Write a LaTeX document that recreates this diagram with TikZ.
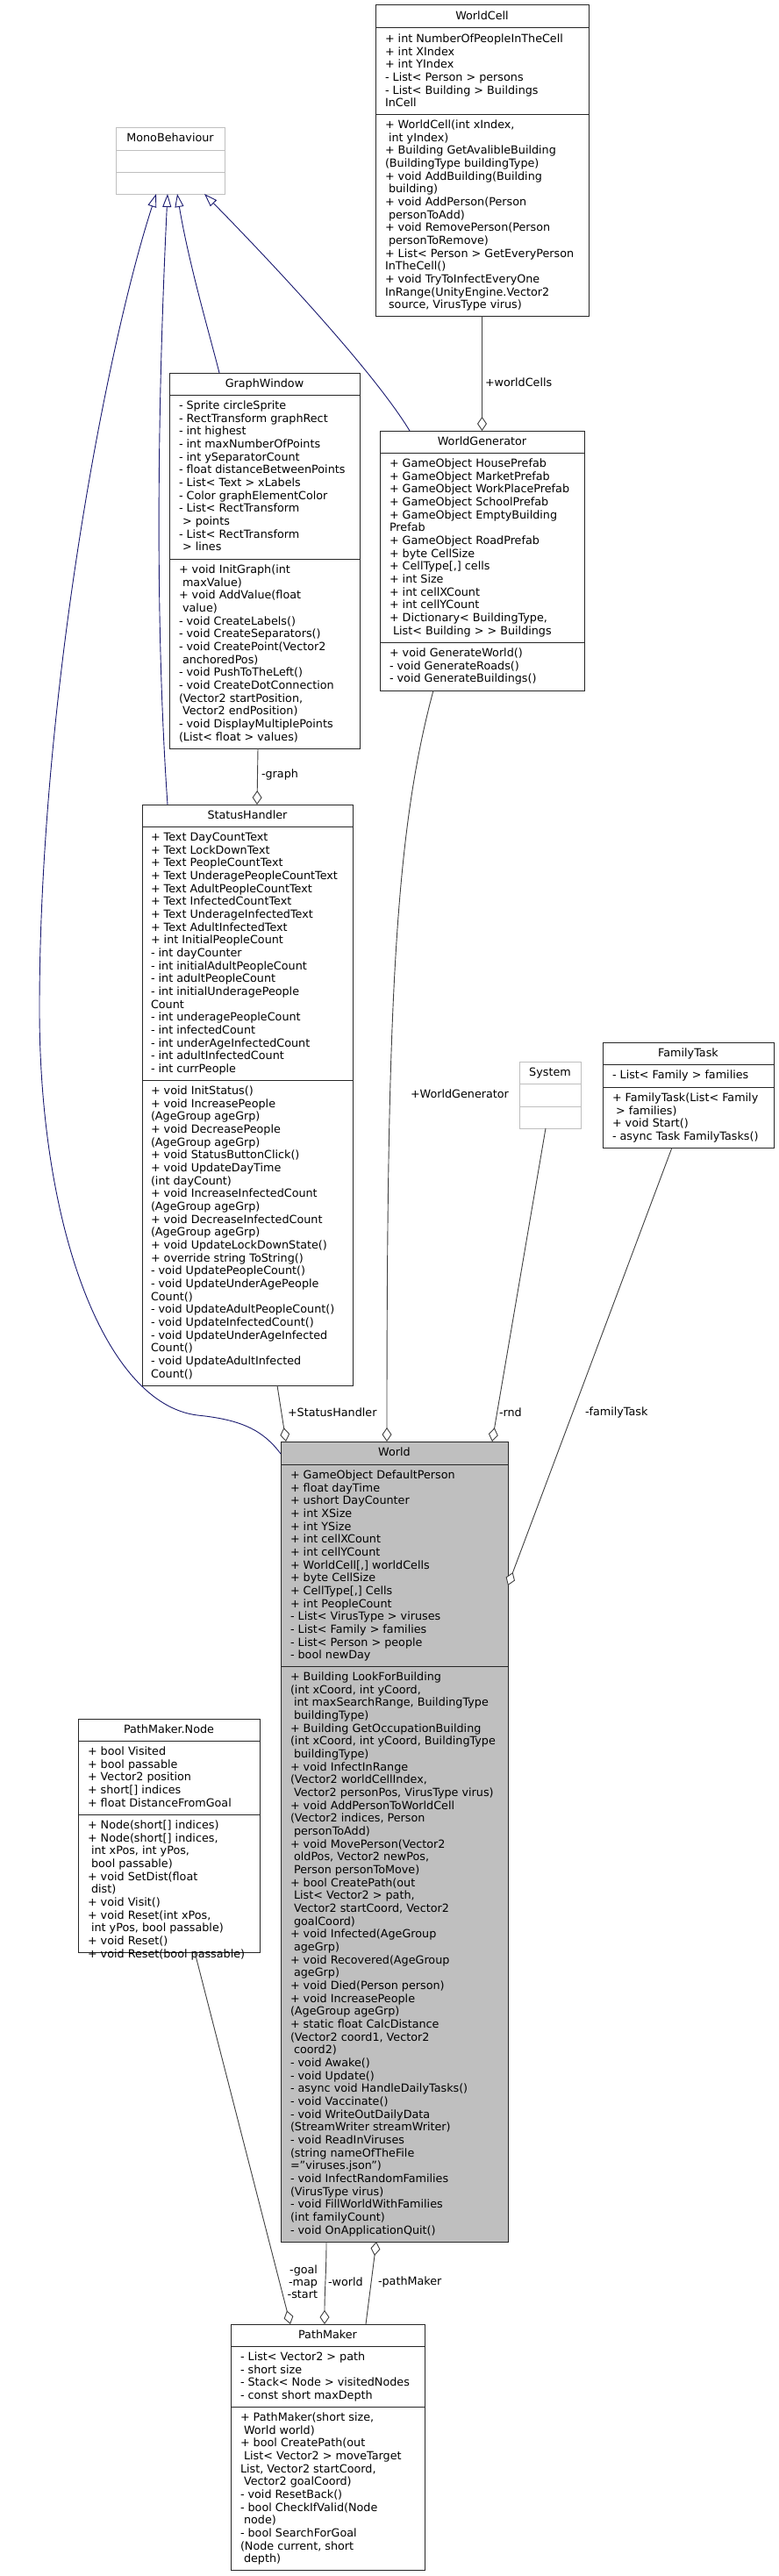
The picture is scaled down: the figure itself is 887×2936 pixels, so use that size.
\documentclass[tikz,border=0pt]{standalone}
\usepackage{fontspec}
\setmainfont{DejaVu Sans}
\usetikzlibrary{arrows.meta}
\definecolor{inhblue}{HTML}{191970}
\definecolor{assocgray}{HTML}{404040}
\definecolor{extgray}{HTML}{BFBFBF}
\definecolor{focusgray}{HTML}{BFBFBF}
\definecolor{boxline}{HTML}{262626}
\newcommand\umllines[1]{\begin{tabular}[t]{@{}l@{}}#1\end{tabular}}
% #1 name, #2 style, #3 left, #4 top, #5 right, #6 sep1, #7 sep2, #8 bottom
\newcommand\umlframe[8]{%
  \node[#2, rectangle, anchor=north west, minimum width={(#5)-(#3)}, minimum height={(#8)-(#4)}] (#1) at (#3,#4) {};
  \draw[#2, fill=none] (#3,#6) -- (#5,#6);
  \draw[#2, fill=none] (#3,#7) -- (#5,#7);
}
\begin{document}
\begin{tikzpicture}[x=1pt,y=-1pt,
  every node/.style={font=\fontsize{12.75}{14.67}\selectfont, inner sep=0pt, outer sep=0pt},
  cls/.style={draw=boxline, line width=1pt, fill=white},
  ext/.style={draw=extgray, line width=1pt, fill=white},
  focus/.style={draw=boxline, line width=1pt, fill=focusgray},
  ttl/.style={anchor=base},
  cmp/.style={anchor=base west},
  lbl/.style={anchor=west},
  inh/.style={draw=inhblue, line width=0.9pt, {Triangle[fill=white, length=15pt, width=10pt]}-},
  agg/.style={draw=assocgray, line width=0.9pt, {Diamond[fill=white, length=16pt, width=11pt]}-},
]
\fill[white] (0,0) rectangle (887,2936);
\useasboundingbox (0,0) rectangle (887,2936);

% WorldCell
\umlframe{wc}{cls}{428}{6}{671}{32}{130}{360}
\node[ttl] (wc-t) at (549.5,22.5) {WorldCell};
\node[cmp] (wc-a) at (439,48.5) {\umllines{+ int NumberOfPeopleInTheCell\\+ int XIndex\\+ int YIndex\\- List< Person > persons\\- List< Building > Buildings\\InCell}};
\node[cmp] (wc-m) at (439,146.5) {\umllines{+ WorldCell(int xIndex,\\\ int yIndex)\\+ Building GetAvalibleBuilding\\(BuildingType buildingType)\\+ void AddBuilding(Building\\\ building)\\+ void AddPerson(Person\\\ personToAdd)\\+ void RemovePerson(Person\\\ personToRemove)\\+ List< Person > GetEveryPerson\\InTheCell()\\+ void TryToInfectEveryOne\\InRange(UnityEngine.Vector2\\\ source, VirusType virus)}};

% MonoBehaviour
\umlframe{mb}{ext}{132}{145}{256}{171}{196}{221}
\node[ttl] (mb-t) at (194,161.5) {MonoBehaviour};

% GraphWindow
\umlframe{gw}{cls}{193}{425}{410}{450}{637}{853}
\node[ttl] (gw-t) at (301.5,441.5) {GraphWindow};
\node[cmp] (gw-a) at (204,466.5) {\umllines{- Sprite circleSprite\\- RectTransform graphRect\\- int highest\\- int maxNumberOfPoints\\- int ySeparatorCount\\- float distanceBetweenPoints\\- List< Text > xLabels\\- Color graphElementColor\\- List< RectTransform\\\ > points\\- List< RectTransform\\\ > lines}};
\node[cmp] (gw-m) at (204,653.5) {\umllines{+ void InitGraph(int\\\ maxValue)\\+ void AddValue(float\\\ value)\\- void CreateLabels()\\- void CreateSeparators()\\- void CreatePoint(Vector2\\\ anchoredPos)\\- void PushToTheLeft()\\- void CreateDotConnection\\(Vector2 startPosition,\\\ Vector2 endPosition)\\- void DisplayMultiplePoints\\(List< float > values)}};

% WorldGenerator
\umlframe{wg}{cls}{433}{491}{666}{516}{732}{787}
\node[ttl] (wg-t) at (549.5,507.5) {WorldGenerator};
\node[cmp] (wg-a) at (444,532.5) {\umllines{+ GameObject HousePrefab\\+ GameObject MarketPrefab\\+ GameObject WorkPlacePrefab\\+ GameObject SchoolPrefab\\+ GameObject EmptyBuilding\\Prefab\\+ GameObject RoadPrefab\\+ byte CellSize\\+ CellType[,] cells\\+ int Size\\+ int cellXCount\\+ int cellYCount\\+ Dictionary< BuildingType,\\\ List< Building > > Buildings}};
\node[cmp] (wg-m) at (444,748.5) {\umllines{+ void GenerateWorld()\\- void GenerateRoads()\\- void GenerateBuildings()}};

% StatusHandler
\umlframe{sh}{cls}{162}{917}{402}{942}{1231}{1579}
\node[ttl] (sh-t) at (282,933.5) {StatusHandler};
\node[cmp] (sh-a) at (172,958.5) {\umllines{+ Text DayCountText\\+ Text LockDownText\\+ Text PeopleCountText\\+ Text UnderagePeopleCountText\\+ Text AdultPeopleCountText\\+ Text InfectedCountText\\+ Text UnderageInfectedText\\+ Text AdultInfectedText\\+ int InitialPeopleCount\\- int dayCounter\\- int initialAdultPeopleCount\\- int adultPeopleCount\\- int initialUnderagePeople\\Count\\- int underagePeopleCount\\- int infectedCount\\- int underAgeInfectedCount\\- int adultInfectedCount\\- int currPeople}};
\node[cmp] (sh-m) at (172,1247.5) {\umllines{+ void InitStatus()\\+ void IncreasePeople\\(AgeGroup ageGrp)\\+ void DecreasePeople\\(AgeGroup ageGrp)\\+ void StatusButtonClick()\\+ void UpdateDayTime\\(int dayCount)\\+ void IncreaseInfectedCount\\(AgeGroup ageGrp)\\+ void DecreaseInfectedCount\\(AgeGroup ageGrp)\\+ void UpdateLockDownState()\\+ override string ToString()\\- void UpdatePeopleCount()\\- void UpdateUnderAgePeople\\Count()\\- void UpdateAdultPeopleCount()\\- void UpdateInfectedCount()\\- void UpdateUnderAgeInfected\\Count()\\- void UpdateAdultInfected\\Count()}};

% System
\umlframe{sy}{ext}{592}{1210}{662}{1235}{1261}{1286}
\node[ttl] (sy-t) at (627,1226.5) {System};

% FamilyTask
\umlframe{ft}{cls}{687}{1188}{882}{1213}{1239}{1308}
\node[ttl] (ft-t) at (784.5,1204.5) {FamilyTask};
\node[cmp] (ft-a) at (698,1229.5) {\umllines{- List< Family > families}};
\node[cmp] (ft-m) at (698,1255.5) {\umllines{+ FamilyTask(List< Family\\\ > families)\\+ void Start()\\- async Task FamilyTasks()}};

% World
\umlframe{wo}{focus}{320}{1643}{579}{1669}{1899}{2555}
\node[ttl] (wo-t) at (449.5,1659.5) {World};
\node[cmp] (wo-a) at (331,1685.5) {\umllines{+ GameObject DefaultPerson\\+ float dayTime\\+ ushort DayCounter\\+ int XSize\\+ int YSize\\+ int cellXCount\\+ int cellYCount\\+ WorldCell[,] worldCells\\+ byte CellSize\\+ CellType[,] Cells\\+ int PeopleCount\\- List< VirusType > viruses\\- List< Family > families\\- List< Person > people\\- bool newDay}};
\node[cmp] (wo-m) at (331,1915.5) {\umllines{+ Building LookForBuilding\\(int xCoord, int yCoord,\\\ int maxSearchRange, BuildingType\\\ buildingType)\\+ Building GetOccupationBuilding\\(int xCoord, int yCoord, BuildingType\\\ buildingType)\\+ void InfectInRange\\(Vector2 worldCellIndex,\\\ Vector2 personPos, VirusType virus)\\+ void AddPersonToWorldCell\\(Vector2 indices, Person\\\ personToAdd)\\+ void MovePerson(Vector2\\\ oldPos, Vector2 newPos,\\\ Person personToMove)\\+ bool CreatePath(out\\\ List< Vector2 > path,\\\ Vector2 startCoord, Vector2\\\ goalCoord)\\+ void Infected(AgeGroup\\\ ageGrp)\\+ void Recovered(AgeGroup\\\ ageGrp)\\+ void Died(Person person)\\+ void IncreasePeople\\(AgeGroup ageGrp)\\+ static float CalcDistance\\(Vector2 coord1, Vector2\\\ coord2)\\- void Awake()\\- void Update()\\- async void HandleDailyTasks()\\- void Vaccinate()\\- void WriteOutDailyData\\(StreamWriter streamWriter)\\- void ReadInViruses\\(string nameOfTheFile\\="viruses.json")\\- void InfectRandomFamilies\\(VirusType virus)\\- void FillWorldWithFamilies\\(int familyCount)\\- void OnApplicationQuit()}};

% PathMaker.Node
\umlframe{pn}{cls}{89}{1959}{296}{1984}{2068}{2225}
\node[ttl] (pn-t) at (192.5,1975.5) {PathMaker.Node};
\node[cmp] (pn-a) at (100,2000.5) {\umllines{+ bool Visited\\+ bool passable\\+ Vector2 position\\+ short[] indices\\+ float DistanceFromGoal}};
\node[cmp] (pn-m) at (100,2084.5) {\umllines{+ Node(short[] indices)\\+ Node(short[] indices,\\\ int xPos, int yPos,\\\ bool passable)\\+ void SetDist(float\\\ dist)\\+ void Visit()\\+ void Reset(int xPos,\\\ int yPos, bool passable)\\+ void Reset()\\+ void Reset(bool passable)}};

% PathMaker
\umlframe{pm}{cls}{263}{2649}{484}{2674}{2743}{2929}
\node[ttl] (pm-t) at (373.5,2665.5) {PathMaker};
\node[cmp] (pm-a) at (274,2690.5) {\umllines{- List< Vector2 > path\\- short size\\- Stack< Node > visitedNodes\\- const short maxDepth}};
\node[cmp] (pm-m) at (274,2759.5) {\umllines{+ PathMaker(short size,\\\ World world)\\+ bool CreatePath(out\\\ List< Vector2 > moveTarget\\List, Vector2 startCoord,\\\ Vector2 goalCoord)\\- void ResetBack()\\- bool CheckIfValid(Node\\\ node)\\- bool SearchForGoal\\(Node current, short\\\ depth)}};

% inheritance
\draw[inh] (mb.south -| 178,0) .. controls (120,400) and (45,800) .. (45,1150) .. controls (45,1400) and (120,1600) .. (225,1613) .. controls (275,1618) and (300,1630) .. (wo.west |- 0,1657);
\draw[inh] (mb.south -| 191,0) .. controls (180,450) and (176,700) .. (sh.north -| 191,0);
\draw[inh] (mb.south -| 202,0) .. controls (215,300) and (240,385) .. (gw.north -| 250,0);
\draw[inh] (mb.south -| 233,0) .. controls (330,320) and (430,430) .. (wg.north -| 467,0);

% aggregations
\draw[agg] (wg.north) -- (wc.south);
\node[lbl] (l-wc) at (553,436) {+worldCells};
\draw[agg] (sh.north -| 293,0) -- (gw.south -| 294,0);
\node[lbl] (l-gr) at (298,883) {-graph};
\draw[agg] (wo.north -| 326,0) -- (sh.south -| 316,0);
\node[lbl] (l-sh) at (328,1610) {+StatusHandler};
\draw[agg] (wo.north -| 441,0) .. controls (441,1150) and (450,950) .. (wg.south -| 494,0);
\node[lbl] (l-wg) at (468,1247) {+WorldGenerator};
\draw[agg] (wo.north -| 561,0) -- (sy.south -| 622,0);
\node[lbl] (l-rnd) at (569,1610) {-rnd};
\draw[agg] (wo.east |- 0,1807) -- (ft.south -| 766,0);
\node[lbl] (l-ft) at (667,1610) {-familyTask};
\draw[agg] (pm.north -| 331,0) -- (pn.south -| 222,0);
\node[anchor=east, align=right, font=\fontsize{12.75}{14}\selectfont] (l-pn) at (362,2601) {-goal\\-map\\-start};
\draw[agg] (pm.north -| 370,0) .. controls (370,2610) and (372,2590) .. (wo.south -| 372,0);
\node[lbl] (l-wo) at (374,2601) {-world};
\draw[agg] (wo.south -| 429,0) -- (pm.north -| 417,0);
\node[lbl] (l-pm) at (431,2601) {-pathMaker};
\end{tikzpicture}
\end{document}
